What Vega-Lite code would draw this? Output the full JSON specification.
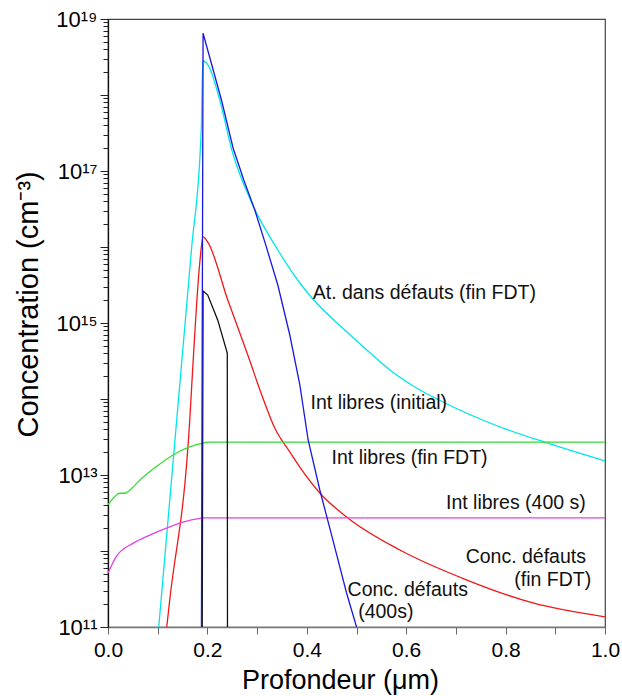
{
  "$schema": "https://vega.github.io/schema/vega-lite/v6.json",
  "width": 497,
  "height": 608,
  "autosize": {"type": "none"},
  "padding": {"left": 108, "top": 19, "right": 17, "bottom": 69},
  "background": "white",
  "config": {
    "font": "Liberation Sans",
    "view": {"stroke": "#444", "strokeWidth": 1.2},
    "axis": {"grid": false}
  },
  "datasets": {
    "curves": [
      {"s": "At. dans défauts (fin FDT)", "d": 0.1021, "c": 1e11},
      {"s": "At. dans défauts (fin FDT)", "d": 0.1679, "c": 9.14e15},
      {"s": "At. dans défauts (fin FDT)", "d": 0.1876, "c": 3.46e17},
      {"s": "At. dans défauts (fin FDT)", "d": 0.1897, "c": 1.57e18},
      {"s": "At. dans défauts (fin FDT)", "d": 0.1913, "c": 2.8e18},
      {"s": "At. dans défauts (fin FDT)", "d": 0.2013, "c": 2.48e18},
      {"s": "At. dans défauts (fin FDT)", "d": 0.2249, "c": 8.59e17},
      {"s": "At. dans défauts (fin FDT)", "d": 0.2491, "c": 1.89e17},
      {"s": "At. dans défauts (fin FDT)", "d": 0.2893, "c": 3.79e16},
      {"s": "At. dans défauts (fin FDT)", "d": 0.3417, "c": 9.14e15},
      {"s": "At. dans défauts (fin FDT)", "d": 0.386, "c": 3.36e15},
      {"s": "At. dans défauts (fin FDT)", "d": 0.4121, "c": 2.07e15},
      {"s": "At. dans défauts (fin FDT)", "d": 0.4765, "c": 8.09e14},
      {"s": "At. dans défauts (fin FDT)", "d": 0.5208, "c": 4.42e14},
      {"s": "At. dans défauts (fin FDT)", "d": 0.5671, "c": 2.41e14},
      {"s": "At. dans défauts (fin FDT)", "d": 0.6175, "c": 1.44e14},
      {"s": "At. dans défauts (fin FDT)", "d": 0.6739, "c": 9.14e13},
      {"s": "At. dans défauts (fin FDT)", "d": 0.7786, "c": 4.55e13},
      {"s": "At. dans défauts (fin FDT)", "d": 0.8833, "c": 2.64e13},
      {"s": "At. dans défauts (fin FDT)", "d": 1.0, "c": 1.53e13},

      {"s": "Conc. défauts (fin FDT)", "d": 0.1182, "c": 1e11},
      {"s": "Conc. défauts (fin FDT)", "d": 0.1242, "c": 2.26e11},
      {"s": "Conc. défauts (fin FDT)", "d": 0.1645, "c": 5.3e13},
      {"s": "Conc. défauts (fin FDT)", "d": 0.1711, "c": 2.98e14},
      {"s": "Conc. défauts (fin FDT)", "d": 0.1846, "c": 6.15e15},
      {"s": "Conc. défauts (fin FDT)", "d": 0.1913, "c": 1.355e16},
      {"s": "Conc. défauts (fin FDT)", "d": 0.2007, "c": 1.16e16},
      {"s": "Conc. défauts (fin FDT)", "d": 0.241, "c": 2.01e15},
      {"s": "Conc. défauts (fin FDT)", "d": 0.2813, "c": 3.79e14},
      {"s": "Conc. défauts (fin FDT)", "d": 0.3094, "c": 1.13e14},
      {"s": "Conc. défauts (fin FDT)", "d": 0.3355, "c": 4.15e13},
      {"s": "Conc. défauts (fin FDT)", "d": 0.3658, "c": 2.01e13},
      {"s": "Conc. défauts (fin FDT)", "d": 0.386, "c": 1.27e13},
      {"s": "Conc. défauts (fin FDT)", "d": 0.4262, "c": 5.8e12},
      {"s": "Conc. défauts (fin FDT)", "d": 0.4826, "c": 2.72e12},
      {"s": "Conc. défauts (fin FDT)", "d": 0.5873, "c": 1.03e12},
      {"s": "Conc. défauts (fin FDT)", "d": 0.7222, "c": 4.15e11},
      {"s": "Conc. défauts (fin FDT)", "d": 0.855, "c": 2.07e11},
      {"s": "Conc. défauts (fin FDT)", "d": 1.0, "c": 1.36e11},

      {"s": "Int libres (fin FDT)", "d": 0, "c": 4.07e12},
      {"s": "Int libres (fin FDT)", "d": 0.0134, "c": 5.19e12},
      {"s": "Int libres (fin FDT)", "d": 0.0235, "c": 5.75e12},
      {"s": "Int libres (fin FDT)", "d": 0.0336, "c": 5.75e12},
      {"s": "Int libres (fin FDT)", "d": 0.0437, "c": 6.31e12},
      {"s": "Int libres (fin FDT)", "d": 0.0638, "c": 8.51e12},
      {"s": "Int libres (fin FDT)", "d": 0.0974, "c": 1.29e13},
      {"s": "Int libres (fin FDT)", "d": 0.1377, "c": 1.95e13},
      {"s": "Int libres (fin FDT)", "d": 0.1846, "c": 2.57e13},
      {"s": "Int libres (fin FDT)", "d": 0.2047, "c": 2.7e13},
      {"s": "Int libres (fin FDT)", "d": 1.0, "c": 2.7e13},

      {"s": "Int libres (400 s)", "d": 0, "c": 5.13e11},
      {"s": "Int libres (400 s)", "d": 0.0169, "c": 8.51e11},
      {"s": "Int libres (400 s)", "d": 0.0503, "c": 1.26e12},
      {"s": "Int libres (400 s)", "d": 0.084, "c": 1.62e12},
      {"s": "Int libres (400 s)", "d": 0.1176, "c": 2.0e12},
      {"s": "Int libres (400 s)", "d": 0.151, "c": 2.4e12},
      {"s": "Int libres (400 s)", "d": 0.1846, "c": 2.69e12},
      {"s": "Int libres (400 s)", "d": 0.19, "c": 2.72e12},
      {"s": "Int libres (400 s)", "d": 1.0, "c": 2.72e12},

      {"s": "Conc. défauts (400s)", "d": 0.1896, "c": 1e11},
      {"s": "Conc. défauts (400s)", "d": 0.1913, "c": 2.64e15},
      {"s": "Conc. défauts (400s)", "d": 0.2007, "c": 2.33e15},
      {"s": "Conc. défauts (400s)", "d": 0.2209, "c": 1.09e15},
      {"s": "Conc. défauts (400s)", "d": 0.24, "c": 4.03e14},
      {"s": "Conc. défauts (400s)", "d": 0.2404, "c": 1e11},

      {"s": "Int libres (initial)", "d": 0.188, "c": 1e11},
      {"s": "Int libres (initial)", "d": 0.1913, "c": 6.49e18},
      {"s": "Int libres (initial)", "d": 0.2283, "c": 8.59e17},
      {"s": "Int libres (initial)", "d": 0.2517, "c": 2.01e17},
      {"s": "Int libres (initial)", "d": 0.2732, "c": 7.62e16},
      {"s": "Int libres (initial)", "d": 0.2954, "c": 3.07e16},
      {"s": "Int libres (initial)", "d": 0.3175, "c": 1.06e16},
      {"s": "Int libres (initial)", "d": 0.3417, "c": 3.16e15},
      {"s": "Int libres (initial)", "d": 0.3658, "c": 6.95e14},
      {"s": "Int libres (initial)", "d": 0.386, "c": 1.53e14},
      {"s": "Int libres (initial)", "d": 0.4027, "c": 2.89e13},
      {"s": "Int libres (initial)", "d": 0.4262, "c": 6.35e12},
      {"s": "Int libres (initial)", "d": 0.4524, "c": 1.4e12},
      {"s": "Int libres (initial)", "d": 0.48, "c": 2.8e11},
      {"s": "Int libres (initial)", "d": 0.5001, "c": 1e11}
    ],
    "labels": [
      {"x": 0.412, "y": 2.48e15, "t": "At. dans défauts (fin FDT)"},
      {"x": 0.4075, "y": 8.86e13, "t": "Int libres (initial)"},
      {"x": 0.4498, "y": 1.675e13, "t": "Int libres (fin FDT)"},
      {"x": 0.68, "y": 4.29e12, "t": "Int libres (400 s)"},
      {"x": 0.7196, "y": 8.34e11, "t": "Conc. défauts"},
      {"x": 0.8174, "y": 4.15e11, "t": "(fin FDT)"},
      {"x": 0.482, "y": 3.07e11, "t": "Conc. défauts"},
      {"x": 0.5033, "y": 1.59e11, "t": "(400s)"}
    ]
  },
  "layer": [
    {
      "data": {"name": "curves"},
      "transform": [{"filter": "datum.s != 'Int libres (initial)' && datum.s != 'Conc. défauts (400s)'"}],
      "mark": {"type": "line", "strokeWidth": 1.3, "clip": true, "interpolate": "monotone"},
      "encoding": {
        "x": {
          "field": "d", "type": "quantitative",
          "scale": {"domain": [0, 1], "nice": false, "zero": false},
          "axis": {
            "title": "Profondeur (μm)",
            "titleFontSize": 27, "titleFontWeight": "normal", "titleColor": "#000",
            "titleX": 232, "titleY": 53, "titleBaseline": "middle", "titleAnchor": null,
            "values": [0, 0.1, 0.2, 0.3, 0.4, 0.5, 0.6, 0.7, 0.8, 0.9, 1.0],
            "labelExpr": "round(datum.value*10) % 2 == 0 ? format(datum.value, '.1f') : ''",
            "labelFontSize": 21, "labelColor": "#000", "labelPadding": 5,
            "labelOverlap": false, "labelFlush": false,
            "tickSize": 7, "tickColor": "#666", "domainColor": "#777", "domainWidth": 1.3
          }
        },
        "y": {
          "field": "c", "type": "quantitative",
          "scale": {"type": "log", "domain": [1e11, 1e19], "nice": false},
          "axis": {
            "title": "Concentration (cm⁻³)",
            "titleFontSize": 29, "titleFontWeight": "normal", "titleColor": "#000",
            "titleX": -80, "titleY": 418, "titleAlign": "left", "titleBaseline": "middle", "titleAngle": 270,
            "values": [1e11,2e11,3e11,4e11,5e11,6e11,7e11,8e11,9e11,
                       1e12,2e12,3e12,4e12,5e12,6e12,7e12,8e12,9e12,
                       1e13,2e13,3e13,4e13,5e13,6e13,7e13,8e13,9e13,
                       1e14,2e14,3e14,4e14,5e14,6e14,7e14,8e14,9e14,
                       1e15,2e15,3e15,4e15,5e15,6e15,7e15,8e15,9e15,
                       1e16,2e16,3e16,4e16,5e16,6e16,7e16,8e16,9e16,
                       1e17,2e17,3e17,4e17,5e17,6e17,7e17,8e17,9e17,
                       1e18,2e18,3e18,4e18,5e18,6e18,7e18,8e18,9e18,
                       1e19],
            "labelExpr": "datum.value == 1e11 ? '10¹¹' : datum.value == 1e13 ? '10¹³' : datum.value == 1e15 ? '10¹⁵' : datum.value == 1e17 ? '10¹⁷' : datum.value == 1e19 ? '10¹⁹' : ''",
            "labelFontSize": 22, "labelColor": "#000", "labelPadding": 3,
            "labelOverlap": false, "labelFlush": false, "labelBound": false,
            "tickSize": {"condition": {"test": "indexof([1e11,1e12,1e13,1e14,1e15,1e16,1e17,1e18,1e19], datum.value) >= 0", "value": 8}, "value": 5},
            "tickColor": "#222", "domainColor": "#111", "domainWidth": 1.3
          }
        },
        "color": {
          "field": "s", "type": "nominal", "legend": null,
          "scale": {
            "domain": ["At. dans défauts (fin FDT)", "Conc. défauts (fin FDT)", "Int libres (fin FDT)", "Int libres (400 s)", "Conc. défauts (400s)", "Int libres (initial)"],
            "range": ["#00E6E6", "#F01818", "#33DD33", "#E640E6", "#111111", "#1818E0"]
          }
        }
      }
    },
    {
      "data": {"name": "curves"},
      "transform": [{"filter": "datum.s == 'Int libres (initial)' || datum.s == 'Conc. défauts (400s)'"}],
      "mark": {"type": "line", "strokeWidth": 1.3, "clip": true, "interpolate": "linear"},
      "encoding": {
        "x": {"field": "d", "type": "quantitative"},
        "y": {"field": "c", "type": "quantitative"},
        "color": {
          "field": "s", "type": "nominal", "legend": null,
          "scale": {
            "domain": ["At. dans défauts (fin FDT)", "Conc. défauts (fin FDT)", "Int libres (fin FDT)", "Int libres (400 s)", "Conc. défauts (400s)", "Int libres (initial)"],
            "range": ["#00E6E6", "#F01818", "#33DD33", "#E640E6", "#111111", "#1818E0"]
          }
        }
      }
    },
    {
      "data": {"name": "labels"},
      "mark": {"type": "text", "align": "left", "baseline": "middle", "fontSize": 19.5, "color": "#111"},
      "encoding": {
        "x": {"field": "x", "type": "quantitative"},
        "y": {"field": "y", "type": "quantitative"},
        "text": {"field": "t", "type": "nominal"}
      }
    }
  ]
}
